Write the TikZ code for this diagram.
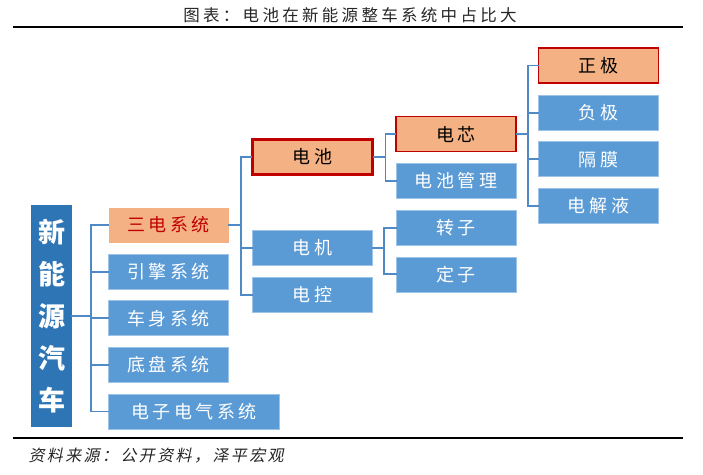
\documentclass[tikz,border=0pt]{standalone}
\usepackage{fontspec}
\setmainfont{Noto Sans CJK SC}
\newfontfamily\boxfont[LetterSpace=20]{Noto Sans CJK SC}
\newfontfamily\notefont[LetterSpace=15,FakeSlant=0.2]{Noto Sans CJK SC}
\usetikzlibrary{positioning}
\definecolor{boxcolor}{RGB}{91, 155, 213}
\definecolor{rootcolor}{RGB}{46, 117, 182}
\definecolor{keycolor}{RGB}{244, 177, 131}
\definecolor{redcolor}{RGB}{192, 0, 0}
\definecolor{linecolor}{RGB}{80, 138, 198}
\tikzstyle{item} = [rectangle, minimum width=120pt, minimum height=35pt, inner sep=0pt, fill=boxcolor, draw=boxcolor!60!white, line width=0.6pt, text=white, font=\fontsize{18}{18}\boxfont]
\tikzstyle{key} = [item, fill=keycolor, draw=redcolor, line width=1.6pt, text=black]
\tikzstyle{root} = [rectangle, minimum width=41pt, minimum height=222pt, inner sep=0pt, fill=rootcolor, text=white, align=center, font=\fontsize{27}{42}\selectfont\bfseries]
\tikzstyle{link} = [line width=1.8pt, line cap=rect, linecolor]
\tikzstyle{rule} = [line width=2pt, black]

\begin{document}
\begin{tikzpicture}[x=1pt, y=-1pt, node distance=11pt]
		\useasboundingbox (0,0) rectangle (703,474);
		
		%
		% Title and rules
		\node [font=\fontsize{16.5}{16.5}\boxfont, black!85] at (350,15) (title) {图表：电池在新能源整车系统中占比大};
		\coordinate (rule_tl) at (13,27);
		\coordinate (rule_tr) at (683,27);
		\coordinate (rule_bl) at (13,438);
		\coordinate (rule_br) at (683,438);
		\draw [rule] (rule_tl) -- (rule_tr);
		\draw [rule] (rule_bl) -- (rule_br);
		
		%
		% Root
		\node [root] at (51.5,316) (root) {新\\能\\源\\汽\\车};
		
		%
		% First level
		\node [item, fill=keycolor, draw=none, text=redcolor] at (168.5,225) (sandian) {三电系统};
		\node [item, below=of sandian] (yinqing) {引擎系统};
		\node [item, below=of yinqing] (cheshen) {车身系统};
		\node [item, below=of cheshen] (dipan) {底盘系统};
		\node [item, minimum width=171pt, below=of dipan.south west, anchor=north west] (dianzi) {电子电气系统};
		
		\coordinate [right=19pt of root.east] (bus_root);
		\draw [link] (root.east) -- (bus_root);
		\draw [link] (bus_root |- sandian) -- (bus_root |- dianzi);
		\draw [link] (bus_root |- sandian) -- (sandian.west);
		\draw [link] (bus_root |- yinqing) -- (yinqing.west);
		\draw [link] (bus_root |- cheshen) -- (cheshen.west);
		\draw [link] (bus_root |- dipan) -- (dipan.west);
		\draw [link] (bus_root |- dianzi) -- (dianzi.west);
		
		%
		% Second level
		\node [key, line width=3pt] at (312.5,157) (dianchi) {电池};
		\node [item] at (312.5,248) (dianji) {电机};
		\node [item, below=of dianji] (diankong) {电控};
		
		\coordinate [right=12pt of sandian.east] (bus_sandian);
		\draw [link] (sandian.east) -- (bus_sandian);
		\draw [link] (bus_sandian |- dianchi) -- (bus_sandian |- diankong);
		\draw [link] (bus_sandian |- dianchi) -- (dianchi.west);
		\draw [link] (bus_sandian |- dianji) -- (dianji.west);
		\draw [link] (bus_sandian |- diankong) -- (diankong.west);
		
		%
		% Third level
		\node [key] at (456,134) (dianxin) {电芯};
		\node [item, below=of dianxin] (guanli) {电池管理};
		\node [item, below=of guanli] (zhuanzi) {转子};
		\node [item, below=of zhuanzi] (dingzi) {定子};
		
		\coordinate [right=11.5pt of dianchi.east] (bus_dianchi);
		\draw [link] (dianchi.east) -- (bus_dianchi);
		\draw [link] (bus_dianchi |- dianxin) -- (bus_dianchi |- guanli);
		\draw [link] (bus_dianchi |- dianxin) -- (dianxin.west);
		\draw [link] (bus_dianchi |- guanli) -- (guanli.west);
		
		\coordinate [right=11.5pt of dianji.east] (bus_dianji);
		\draw [link] (dianji.east) -- (bus_dianji);
		\draw [link] (bus_dianji |- zhuanzi) -- (bus_dianji |- dingzi);
		\draw [link] (bus_dianji |- zhuanzi) -- (zhuanzi.west);
		\draw [link] (bus_dianji |- dingzi) -- (dingzi.west);
		
		%
		% Fourth level
		\node [key] at (598.5,65.5) (zhengji) {正极};
		\node [item, below=of zhengji] (fuji) {负极};
		\node [item, below=of fuji] (gemo) {隔膜};
		\node [item, below=of gemo] (jieye) {电解液};
		
		\coordinate [right=11pt of dianxin.east] (bus_dianxin);
		\draw [link] (dianxin.east) -- (bus_dianxin);
		\draw [link] (bus_dianxin |- zhengji) -- (bus_dianxin |- jieye);
		\draw [link] (bus_dianxin |- zhengji) -- (zhengji.west);
		\draw [link] (bus_dianxin |- fuji) -- (fuji.west);
		\draw [link] (bus_dianxin |- gemo) -- (gemo.west);
		\draw [link] (bus_dianxin |- jieye) -- (jieye.west);
		
		%
		% Source
		\node [anchor=west, font=\fontsize{16}{16}\notefont, black!85] at (25,456) (source) {资料来源：公开资料，泽平宏观};
	
	\end{tikzpicture}
\end{document}
